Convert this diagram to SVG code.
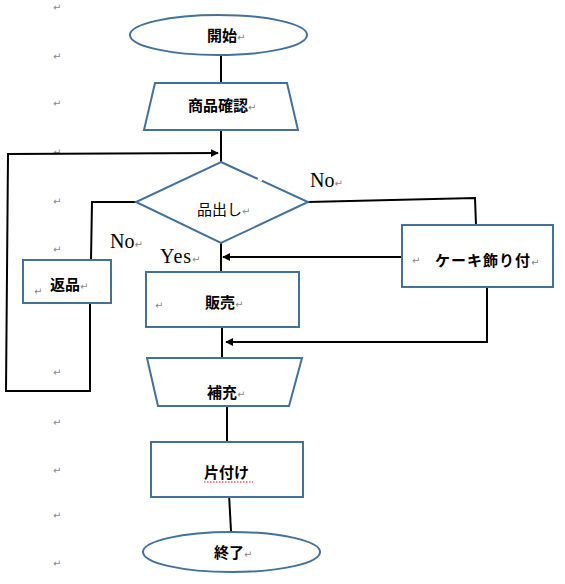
<svg xmlns="http://www.w3.org/2000/svg" width="565" height="584" viewBox="0 0 565 584">
<style>
.shape{fill:#fff;stroke:#41719C;stroke-width:2}
.conn{fill:none;stroke:#000;stroke-width:2}
.jp{font-family:"Noto Sans CJK JP",sans-serif;font-size:15px;font-weight:bold;fill:#000}
.jpn{font-family:"Noto Sans CJK JP",sans-serif;font-size:15px;font-weight:normal;fill:#000}
.en{font-family:"Liberation Serif",serif;font-size:20px;fill:#000}
.pm{font-family:"DejaVu Sans",sans-serif;font-size:10px;font-weight:normal;fill:#888}
</style>
<defs>
<marker id="arr" viewBox="0 0 10 10" refX="9" refY="5" markerWidth="4" markerHeight="4" orient="auto" markerUnits="strokeWidth">
<path d="M0,0 L10,5 L0,10 z" fill="#000"/>
</marker>
</defs>
<rect width="565" height="584" fill="#fff"/>
<g id="para-marks" class="pm">
<text x="53" y="11">↵</text>
<text x="53" y="60">↵</text>
<text x="53" y="107">↵</text>
<text x="53" y="156">↵</text>
<text x="53" y="205">↵</text>
<text x="53" y="253">↵</text>
<text x="53" y="376">↵</text>
<text x="53" y="426">↵</text>
<text x="53" y="474">↵</text>
<text x="53" y="519">↵</text>
<text x="53" y="567">↵</text>
</g>
<g id="connectors">
<line class="conn" x1="221" y1="55" x2="221" y2="83"/>
<line class="conn" x1="221" y1="130" x2="221" y2="162"/>
<polyline class="conn" points="7,154 218,153" marker-end="url(#arr)"/>
<polyline class="conn" points="8,155 6,391 90,391 90,303"/>
<polyline class="conn" points="136,202 92,202 91,260"/>
<polyline class="conn" points="308,202 475,198 476,225"/>
<line class="conn" x1="221" y1="243" x2="221" y2="272"/>
<line class="conn" x1="402" y1="257" x2="223" y2="257" marker-end="url(#arr)"/>
<line class="conn" x1="222" y1="327" x2="222" y2="358"/>
<polyline class="conn" points="487,287 487,342 226,342" marker-end="url(#arr)"/>
<line class="conn" x1="227" y1="406" x2="227" y2="442"/>
<line class="conn" x1="229" y1="494" x2="231" y2="531"/>
</g>
<g id="labels">
<text class="en" x="310" y="187">No<tspan class="pm">↵</tspan></text>
<text class="en" x="110" y="248">No<tspan class="pm">↵</tspan></text>
<text class="en" x="160" y="263" letter-spacing="1">Yes<tspan class="pm" letter-spacing="0">↵</tspan></text>
</g>
<g id="node-start">
<ellipse class="shape" cx="218.5" cy="35" rx="88.5" ry="20"/>
<text class="jp" x="207" y="41">開始<tspan class="pm">↵</tspan></text>
</g>
<g id="node-check">
<polygon class="shape" points="155,83 287,83 298,130 144,130"/>
<text class="jp" x="188" y="111">商品確認<tspan class="pm">↵</tspan></text>
</g>
<g id="node-decision">
<polygon class="shape" points="221,162 308,202 221,243 136,202"/>
<line x1="258" y1="178.5" x2="262" y2="180.5" stroke="#fff" stroke-width="3"/>
<text class="jpn" x="197" y="215">品出し<tspan class="pm">↵</tspan></text>
</g>
<g id="node-return">
<rect class="shape" x="23" y="260" width="88" height="43"/>
<text class="pm" x="34" y="295">↵</text>
<text class="jp" x="50" y="290">返品<tspan class="pm">↵</tspan></text>
</g>
<g id="node-cake">
<rect class="shape" x="402" y="225" width="151" height="62"/>
<text class="pm" x="412" y="264">↵</text>
<text class="jp" x="435" y="266" letter-spacing="1">ケーキ飾り付<tspan class="pm" letter-spacing="0">↵</tspan></text>
</g>
<g id="node-sale">
<rect class="shape" x="146" y="272" width="153" height="55"/>
<text class="pm" x="155" y="309">↵</text>
<text class="jp" x="205" y="308">販売<tspan class="pm">↵</tspan></text>
</g>
<g id="node-refill">
<polygon class="shape" points="147,358 302,358 289,406 158,406"/>
<text class="jp" x="207" y="398">補充<tspan class="pm">↵</tspan></text>
</g>
<g id="node-cleanup">
<rect class="shape" x="151" y="442" width="152" height="55"/>
<text class="jp" x="204" y="478">片付け</text>
<line x1="204" y1="482" x2="253" y2="482" stroke="#e00" stroke-width="1" stroke-dasharray="1.5,1.5"/>
</g>
<g id="node-end">
<ellipse class="shape" cx="231.5" cy="552" rx="88.5" ry="20"/>
<text class="jp" x="214" y="558">終了<tspan class="pm">↵</tspan></text>
</g>
</svg>
